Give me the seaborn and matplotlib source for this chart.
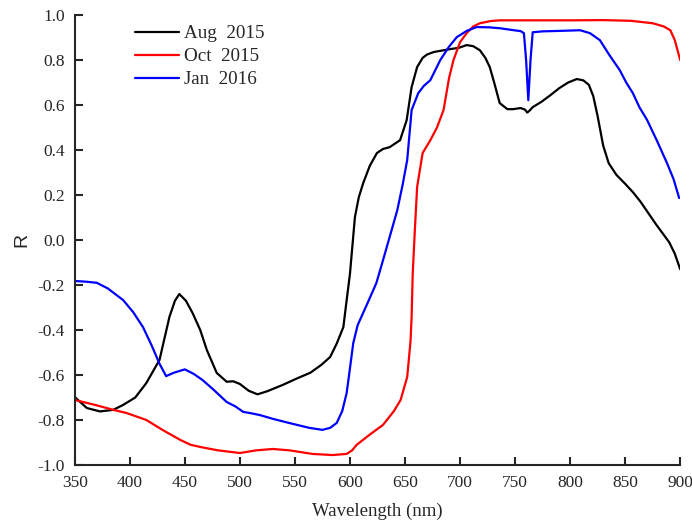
# Reflectance spectra for three sampling dates
import pandas as pd
import numpy as np
import matplotlib
matplotlib.use('Agg')
import matplotlib.pyplot as plt
import seaborn as sns

# Aug 2015 (black)
aug_wl = [350, 361, 373, 385, 394, 405, 415, 427, 436, 441, 445, 451, 457, 464, 470, 479, 488, 494, 500, 508, 516,
          525, 539, 552, 564, 574, 582, 588, 594, 597, 600, 604.5, 608, 612, 618, 624.5, 630, 636, 645.5, 651.5, 656,
          661, 666, 670, 676, 684, 691, 699, 706, 712, 718, 723, 727, 731, 736, 743, 748, 755, 759, 761, 763,
          766, 774, 782, 790, 798, 806, 812, 817, 821, 825, 830, 835, 842, 850, 857, 864, 871, 878, 884, 890,
          895, 900]
aug_r = [-0.698, -0.747, -0.762, -0.755, -0.733, -0.70, -0.636, -0.533, -0.342, -0.27, -0.24, -0.27, -0.324, -0.40, -0.489, -0.591, -0.63, -0.628, -0.64, -0.67, -0.686,
         -0.672, -0.644, -0.615, -0.59, -0.555, -0.52, -0.46, -0.387, -0.267, -0.15, 0.102, 0.19, 0.253, 0.33, 0.387, 0.405, 0.413, 0.444, 0.533, 0.68,
         0.769, 0.81, 0.825, 0.836, 0.843, 0.849, 0.855, 0.867, 0.862, 0.844, 0.81, 0.769, 0.70, 0.609, 0.582, 0.582, 0.587, 0.58, 0.567, 0.575,
         0.591, 0.615, 0.644, 0.675, 0.70, 0.716, 0.71, 0.69, 0.64, 0.55, 0.42, 0.342, 0.29, 0.25, 0.213, 0.17, 0.12, 0.07, 0.03, -0.01,
         -0.06, -0.13]

# Oct 2015 (red)
oct_wl = [350, 370, 385, 397, 415, 430, 446, 455, 464, 480, 500, 515, 530, 545, 566, 584, 597, 602, 606, 618,
          630, 640, 646, 652, 655, 656, 657, 659, 661, 666, 673, 679, 685, 690, 694, 700, 706, 712, 718, 728,
          736, 760, 780, 800, 830, 855, 875, 885, 891, 895, 900]
oct_r = [-0.711, -0.735, -0.755, -0.769, -0.80, -0.845, -0.889, -0.91, -0.92, -0.935, -0.947, -0.935, -0.929, -0.935, -0.951, -0.956, -0.951, -0.935, -0.911, -0.865,
         -0.822, -0.76, -0.711, -0.609, -0.45, -0.342, -0.15, 0.05, 0.236, 0.387, 0.444, 0.50, 0.578, 0.72, 0.80, 0.88, 0.92, 0.95, 0.964, 0.974,
         0.977, 0.977, 0.977, 0.977, 0.978, 0.975, 0.964, 0.95, 0.933, 0.89, 0.80]

# Jan 2016 (blue)
jan_wl = [350, 360, 370, 380, 394, 403, 412, 420, 427, 433, 440, 450, 458, 466, 476, 488, 496, 503, 510, 518,
          530, 542, 552, 563, 575, 582, 588, 593, 597, 600, 603, 607, 616, 624, 630, 637, 643, 648, 652, 656,
          662, 667, 673, 682, 690, 697, 706, 715, 726, 736, 746, 755, 758, 760, 762, 764, 766, 775, 790, 809,
          818, 827, 836, 845, 851, 857, 863, 870, 879, 888, 894, 899]
jan_r = [-0.182, -0.185, -0.19, -0.215, -0.267, -0.32, -0.387, -0.47, -0.55, -0.605, -0.59, -0.575, -0.595, -0.622, -0.665, -0.72, -0.74, -0.764, -0.77, -0.778,
         -0.795, -0.81, -0.822, -0.835, -0.844, -0.835, -0.813, -0.76, -0.68, -0.57, -0.458, -0.378, -0.28, -0.191, -0.09, 0.03, 0.133, 0.25, 0.356, 0.578,
         0.653, 0.685, 0.711, 0.80, 0.86, 0.902, 0.93, 0.947, 0.946, 0.942, 0.935, 0.929, 0.92, 0.80, 0.622, 0.80, 0.924, 0.928, 0.93, 0.933,
         0.92, 0.889, 0.82, 0.756, 0.70, 0.653, 0.59, 0.533, 0.44, 0.342, 0.27, 0.187]

labels = ['Aug  2015', 'Oct  2015', 'Jan  2016']
colors = ['black', '#ff0000', '#0000ff']
y_ticks = [-1.0, -0.8, -0.6, -0.4, -0.2, 0.0, 0.2, 0.4, 0.6, 0.8, 1.0]
y_ticklabels = ['-1.0', '-0.8', '-0.6', '-0.4', '-0.2', '0.0', '0.2', '0.4', '0.6', '0.8', '1.0']

# long format dataframe for seaborn
frames = []
for lab, wl, r in zip(labels, [aug_wl, oct_wl, jan_wl], [aug_r, oct_r, jan_r]):
    frames.append(pd.DataFrame({'wavelength': wl, 'R': r, 'date': lab}))
df = pd.concat(frames, ignore_index=True)

sns.set_style('ticks')
plt.rcParams['font.family'] = ['Liberation Serif', 'DejaVu Serif']

fig = plt.figure(figsize=(6.92, 5.23), dpi=100)
ax = fig.add_axes([0.108, 0.111, 0.875, 0.86])

sns.lineplot(data=df, x='wavelength', y='R', hue='date', hue_order=labels,
             palette=dict(zip(labels, colors)), estimator=None, sort=False,
             linewidth=1.6, ax=ax)

ax.set_xlim(350, 900)
ax.set_ylim(-1.0, 1.0)
ax.set_xticks(np.arange(350, 901, 50))
ax.set_yticks(y_ticks)
ax.set_yticklabels(y_ticklabels)
ax.tick_params(direction='in', length=6, width=1.5, labelsize=12.5, pad=7)

for s in ['top', 'right']:
    ax.spines[s].set_visible(False)
for s in ['left', 'bottom']:
    ax.spines[s].set_linewidth(1.5)

ax.set_xlabel('Wavelength (nm)', fontsize=13.5, labelpad=9)
ax.set_ylabel('R', fontsize=14, family=['Liberation Sans', 'DejaVu Sans'], labelpad=5)

leg = ax.legend(loc='upper left', frameon=False, fontsize=13.7, handlelength=2.3,
                handletextpad=0.3, labelspacing=0.3, borderaxespad=0.0,
                bbox_to_anchor=(0.087, 0.995))

plt.savefig('out.png', dpi=100)
